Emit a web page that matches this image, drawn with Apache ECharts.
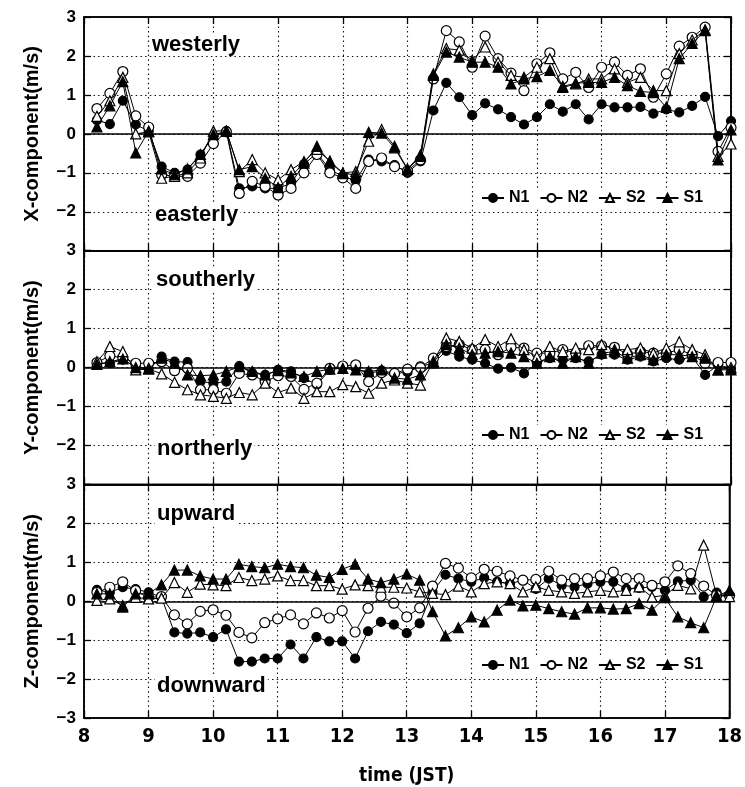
<!DOCTYPE html>
<html>
<head>
<meta charset="utf-8">
<script src="https://cdn.jsdelivr.net/npm/echarts@6/dist/echarts.min.js"></script>
<style>
html,body{margin:0;padding:0;background:#fff;}
#chart{width:745px;height:787px;}
</style>
</head>
<body>
<div id="chart"></div>
<script>
// ---- data ----
var times = [8.2,8.4,8.6,8.8,9.0,9.2,9.4,9.6,9.8,10.0,10.2,10.4,10.6,10.8,11.0,11.2,11.4,11.6,11.8,12.0,
  12.2,12.4,12.6,12.8,13.0,13.2,13.4,13.6,13.8,14.0,14.2,14.4,14.6,14.8,15.0,15.2,15.4,15.6,15.8,16.0,
  16.2,16.4,16.6,16.8,17.0,17.2,17.4,17.6,17.8,18.0];
var seriesNames = ['N1','N2','S2','S1'];
var panelNames = ['X-component(m/s)','Y-component(m/s)','Z-component(m/s)'];
var panelUpper = ['westerly','southerly','upward'];
var panelLower = ['easterly','northerly','downward'];
var xTicks = [8,9,10,11,12,13,14,15,16,17,18];
var yTicks = [-3,-2,-1,0,1,2,3];

// X-component
var xN1 = [0.35,0.25,0.85,0.24,0.07,-0.84,-1.0,-0.92,-0.53,-0.06,0.07,-1.4,-1.35,-1.4,-1.4,-1.27,-0.78,-0.49,-0.92,-1.09,
  -1.2,-0.66,-0.71,-0.8,-1.0,-0.71,0.6,1.31,0.94,0.48,0.78,0.63,0.43,0.24,0.43,0.76,0.57,0.76,0.37,0.76,
  0.68,0.68,0.69,0.52,0.63,0.55,0.72,0.95,-0.06,0.33];
var xN2 = [0.65,1.04,1.6,0.46,0.17,-1.05,-1.09,-1.09,-0.75,-0.25,0.05,-1.53,-1.22,-1.35,-1.57,-1.4,-1.0,-0.53,-1.0,-1.13,
  -1.4,-0.71,-0.62,-0.84,-0.95,-0.67,1.41,2.65,2.36,1.71,2.51,1.93,1.56,1.11,1.8,2.08,1.41,1.58,1.19,1.71,
  1.84,1.5,1.67,0.94,1.54,2.25,2.48,2.74,-0.45,0.16];
var xS2 = [0.45,0.85,1.45,0.0,0.05,-1.14,-1.09,-1.0,-0.62,0.07,0.08,-0.97,-0.66,-1.0,-1.18,-0.92,-0.71,-0.4,-0.7,-1.0,
  -0.97,-0.19,0.11,-0.32,-0.9,-0.54,1.54,2.19,2.15,1.89,2.23,1.84,1.5,1.45,1.71,1.93,1.19,1.28,1.41,1.41,
  1.67,1.32,1.45,1.11,1.11,2.06,2.41,2.67,-0.58,-0.26];
var xS1 = [0.18,0.72,1.34,-0.49,0.07,-0.9,-1.05,-0.9,-0.53,-0.02,0.06,-0.92,-0.84,-1.14,-1.38,-1.09,-0.75,-0.32,-0.72,-1.02,
  -1.05,0.04,0.02,-0.36,-0.92,-0.58,1.5,2.1,1.97,1.84,1.84,1.71,1.28,1.41,1.47,1.63,1.22,1.3,1.32,1.32,
  1.45,1.24,1.09,1.06,0.68,1.93,2.32,2.65,-0.67,0.1];

// Y-component
var yN1 = [0.1,0.11,0.2,0.02,-0.04,0.28,0.15,0.14,-0.36,-0.4,-0.36,0.04,-0.14,-0.19,-0.06,-0.1,-0.27,-0.44,-0.06,0.03,
  -0.02,-0.15,-0.08,-0.15,-0.12,0.03,0.11,0.43,0.28,0.2,0.11,-0.03,0.0,-0.15,0.11,0.24,0.2,0.24,0.16,0.33,
  0.33,0.2,0.28,0.16,0.24,0.2,0.28,-0.19,0.07,-0.02];
var yN2 = [0.13,0.3,0.25,0.11,0.11,0.15,-0.08,-0.02,-0.57,-0.57,-0.66,-0.15,-0.19,-0.36,-0.21,-0.23,-0.56,-0.4,-0.02,0.04,
  0.07,-0.36,-0.13,-0.15,-0.04,0.0,0.24,0.54,0.59,0.46,0.46,0.33,0.52,0.5,0.37,0.37,0.46,0.37,0.56,0.56,
  0.52,0.34,0.41,0.37,0.37,0.46,0.33,0.11,0.13,0.13];
var yS2 = [0.15,0.54,0.41,-0.06,-0.04,-0.16,-0.38,-0.57,-0.7,-0.74,-0.79,-0.64,-0.7,-0.4,-0.64,-0.53,-0.79,-0.62,-0.62,-0.44,
  -0.49,-0.66,-0.4,-0.32,-0.4,-0.45,0.16,0.76,0.67,0.5,0.72,0.54,0.74,0.46,0.28,0.54,0.41,0.5,0.46,0.59,
  0.46,0.46,0.5,0.37,0.5,0.66,0.46,0.33,-0.06,0.0];
var yS1 = [0.08,0.15,0.22,0.0,-0.02,0.24,0.11,-0.19,-0.21,-0.19,-0.1,0.02,-0.1,-0.19,-0.08,-0.14,-0.23,-0.1,-0.04,-0.02,
  -0.06,-0.1,-0.06,-0.27,-0.3,-0.19,0.12,0.59,0.5,0.33,0.37,0.41,0.37,0.28,0.11,0.28,0.11,0.28,0.11,0.37,
  0.41,0.24,0.33,0.2,0.33,0.33,0.28,0.24,-0.06,-0.06];

// Z-component
var zN1 = [0.29,0.23,0.36,0.31,0.23,0.1,-0.8,-0.83,-0.8,-0.92,-0.72,-1.55,-1.55,-1.47,-1.47,-1.11,-1.47,-0.92,-1.03,-1.03,
  -1.47,-0.77,-0.53,-0.6,-0.82,-0.57,0.24,0.68,0.58,0.5,0.6,0.5,0.45,0.54,0.32,0.58,0.41,0.37,0.45,0.5,
  0.5,0.32,0.34,0.37,0.28,0.51,0.54,0.11,0.22,0.15];
var zN2 = [0.23,0.36,0.5,0.27,0.1,0.12,-0.35,-0.58,-0.26,-0.22,-0.36,-0.8,-0.94,-0.55,-0.45,-0.35,-0.58,-0.3,-0.43,-0.24,
  -0.79,-0.18,0.13,-0.05,-0.4,-0.17,0.39,0.97,0.85,0.6,0.82,0.77,0.65,0.54,0.56,0.77,0.54,0.58,0.58,0.65,
  0.75,0.58,0.58,0.41,0.5,0.91,0.71,0.39,0.15,0.15];
var zS2 = [0.02,0.06,-0.11,0.1,0.06,0.08,0.48,0.23,0.44,0.42,0.4,0.61,0.53,0.57,0.65,0.53,0.53,0.4,0.4,0.31,
  0.42,0.4,0.36,0.36,0.34,0.24,0.2,0.17,0.39,0.24,0.45,0.5,0.45,0.24,0.37,0.28,0.24,0.2,0.24,0.28,
  0.24,0.28,0.37,0.11,0.15,0.41,0.32,1.44,0.15,0.12];
var zS1 = [0.19,0.19,-0.15,0.19,0.19,0.42,0.8,0.8,0.65,0.57,0.57,0.95,0.89,0.86,0.95,0.89,0.86,0.67,0.61,0.82,
  0.95,0.57,0.48,0.57,0.7,0.54,-0.27,-0.89,-0.68,-0.4,-0.53,-0.23,0.03,-0.12,-0.1,-0.19,-0.27,-0.33,-0.17,-0.17,
  -0.2,-0.19,-0.06,-0.23,0.09,-0.4,-0.55,-0.68,0.12,0.28];

var panelData = [
  [xN1, xN2, xS2, xS1],
  [yN1, yN2, yS2, yS1],
  [zN1, zN2, zS2, zS1]
];

// ---- styling ----
var FONT = '"Liberation Sans", Arial, sans-serif';
var NARROW = '"DejaVu Sans Condensed", "Liberation Sans Narrow", "Liberation Sans", sans-serif';
var gridLeft = 84, gridRight = 14, gridTop = 17, panelH = 233.7;
var markerStyles = {
  N1: {symbol:'circle', size:9, fill:'#000'},
  N2: {symbol:'circle', size:10, fill:'#fff'},
  S2: {symbol:'triangle', size:10, fill:'#fff'},
  S1: {symbol:'triangle', size:10, fill:'#000'}
};

function pair(t, v){ return t.map(function(x,i){ return [x, v[i]]; }); }
function minus(v){ return v < 0 ? '\u2212' + Math.abs(v) : String(v); }

var grids = [], xAxes = [], yAxes = [], series = [], legends = [], graphics = [];
for (var p = 0; p < 3; p++) {
  grids.push({left: gridLeft, right: gridRight, top: gridTop + p*panelH, height: panelH,
    show: true, borderColor: '#000', borderWidth: 1.5, backgroundColor: 'transparent'});
  var isBottom = (p === 2);
  xAxes.push({type:'value', gridIndex:p, min:8, max:18, interval:1, position:'bottom',
    axisLine:{show:true, onZero:false, lineStyle:{color:'#000', width:1.5}},
    axisTick:{show:true, inside:true, length:7, lineStyle:{color:'#000', width:1.3}},
    axisLabel:{show:isBottom, margin:9, color:'#000', fontSize:20, fontWeight:'bold', fontFamily:NARROW},
    splitLine:{show:true, lineStyle:{color:'#111', width:1.1, type:[1.5,3.2]}},
    name: isBottom ? 'time (JST)' : '', nameLocation:'middle', nameGap:48,
    nameTextStyle:{color:'#000', fontSize:19, fontWeight:'bold', fontFamily:NARROW}
  });
  xAxes.push({type:'value', gridIndex:p, min:8, max:18, interval:1, position:'top',
    axisLine:{show:true, onZero:false, lineStyle:{color:'#000', width:1.5}},
    axisTick:{show:true, inside:true, length:7, lineStyle:{color:'#000', width:1.3}},
    axisLabel:{show:false}, splitLine:{show:false}
  });
  (function(pp){
    yAxes.push({type:'value', gridIndex:pp, min:-3, max:3, interval:1, position:'left',
      axisLine:{show:true, onZero:false, lineStyle:{color:'#000', width:1.5}},
      axisTick:{show:true, inside:true, length:7, lineStyle:{color:'#000', width:1.3}},
      axisLabel:{show:true, margin:8, color:'#000', fontSize:17, fontWeight:'bold', fontFamily:FONT,
        formatter:function(v){ if (pp < 2 && v === -3) return ''; return minus(v); }},
      splitLine:{show:true, lineStyle:{color:'#111', width:1.1, type:[1.5,3.2]}},
      name: panelNames[pp], nameLocation:'middle', nameRotate:90, nameGap:42,
      nameTextStyle:{color:'#000', fontSize:20, fontWeight:'bold', fontFamily:FONT}
    });
  })(p);
  yAxes.push({type:'value', gridIndex:p, min:-3, max:3, interval:1, position:'right',
    axisLine:{show:true, onZero:false, lineStyle:{color:'#000', width:1.5}},
    axisTick:{show:true, inside:true, length:7, lineStyle:{color:'#000', width:1.3}},
    axisLabel:{show:false}, splitLine:{show:false}
  });

  for (var s = 0; s < 4; s++) {
    var nm = seriesNames[s], ms = markerStyles[nm];
    var ser = {
      type:'line', name:nm, xAxisIndex:2*p, yAxisIndex:2*p,
      data: pair(times, panelData[p][s]),
      symbol: ms.symbol, symbolSize: ms.size, showSymbol:true,
      lineStyle:{color:'#000', width:1},
      itemStyle:{color: ms.fill, borderColor:'#000', borderWidth:1.2},
      emphasis:{disabled:true}, z: 3 + s
    };
    if (s === 0) {
      ser.markLine = {silent:true, symbol:['none','none'], label:{show:false},
        lineStyle:{color:'#000', width:1.6, type:'solid'}, data:[{yAxis:0}]};
    }
    series.push(ser);
  }

  var legTops = [188, 425, 655];
  legends.push({data:seriesNames, left:478, top:legTops[p], orient:'horizontal',
    itemWidth:22, itemHeight:10, itemGap:10, padding:[2,3], backgroundColor:'#fff',
    selectedMode:false, z:50,
    textStyle:{color:'#000', fontSize:16, fontWeight:'bold', fontFamily:FONT}
  });
}

var labelPos = [
  [150, 34, panelUpper[0]], [153, 204, panelLower[0]],
  [154, 269, panelUpper[1]], [155, 438, panelLower[1]],
  [155, 503, panelUpper[2]], [155, 675, panelLower[2]]
];
labelPos.forEach(function(a){
  graphics.push({type:'text', left:a[0], top:a[1], z:100,
    style:{text:a[2], font:'bold 22px ' + FONT, fill:'#000', backgroundColor:'#fff', padding:[0,2]}});
});

var chart = echarts.init(document.getElementById('chart'), null, {renderer:'canvas'});
chart.setOption({
  animation:false,
  backgroundColor:'#fff',
  grid:grids, xAxis:xAxes, yAxis:yAxes, series:series, legend:legends, graphic:graphics
});
</script>
</body>
</html>
